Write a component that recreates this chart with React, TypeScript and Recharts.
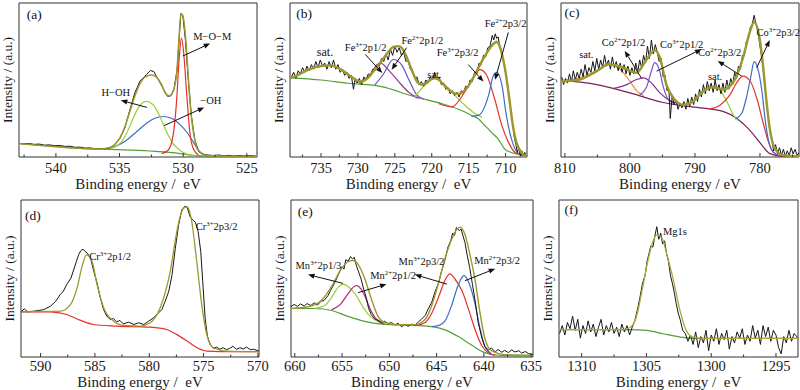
import React from "react";
import { LineChart, Line, XAxis, YAxis, ReferenceArea, ReferenceLine, ReferenceDot } from "recharts";

type Pt = [number, number];

// ---------- (a) O 1s ----------
const aRaw: Pt[] = [[542.9, 8.8], [542.5, 8.5], [542.1, 8.7], [541.7, 8.2], [541.3, 8.4], [540.9, 7.7], [540.5, 7.9], [540.1, 7.3], [539.7, 7.5], [539.3, 6.9], [538.9, 7.0], [538.5, 6.3], [538.1, 6.4], [537.7, 5.8], [537.3, 5.9], [536.9, 5.4], [536.5, 5.5], [536.1, 5.3], [535.8, 5.8], [535.5, 7.2], [534.97, 12], [534.58, 19], [534.19, 30.6], [533.8, 41.6], [533.4, 49.2], [532.88, 53.6], [532.57, 56.2], [532.3, 55.4], [531.96, 50.3], [531.57, 44.4], [531.23, 39.4], [531.0, 39.6], [530.73, 43.8], [530.47, 56.9], [530.31, 77.7], [530.18, 93.4], [530.03, 91.9], [529.82, 75.5], [529.61, 51.4], [529.35, 26.3], [529.08, 10.9], [528.77, 3.3], [528.4, 1.6], [528.0, 1.2], [527.6, 0.9], [527.2, 1.3], [526.8, 0.8], [526.4, 1.1], [526.0, 0.6], [525.6, 1.0], [525.2, 0.7], [524.8, 1.0], [524.3, 0.6]];
const aFit: Pt[] = [[542.91, 8.75], [540.47, 7.0], [537.85, 5.47], [536.54, 5.25], [535.76, 6.13], [535.37, 8.1], [534.97, 12.5], [534.58, 19.7], [534.19, 29.5], [533.8, 39.4], [533.4, 47.5], [533.01, 51.9], [532.49, 53.2], [532.09, 51.9], [531.7, 47.0], [531.31, 40.5], [531.05, 39.8], [530.79, 42.7], [530.52, 53.6], [530.34, 75.5], [530.18, 93.0], [530.0, 90.8], [529.79, 75.5], [529.61, 53.6], [529.4, 29.5], [529.16, 14.2], [528.82, 4.4], [528.17, 1.1], [526.07, 0.5], [524.24, 0.5]];
const aBg: Pt[] = [[542.9, 8.8], [537.85, 5.5], [535.24, 4.8], [532.62, 3.9], [530.79, 2.8], [529.21, 1.1], [527.38, 0.5], [524.2, 0.5]];
const aHOH: Pt[] = [[535.76, 5.5], [534.97, 8.75], [534.45, 15.3], [533.93, 25.2], [533.4, 33.5], [532.88, 36.1], [532.36, 33.9], [531.83, 26.3], [531.31, 16.4], [530.79, 8.75], [530.26, 4.4], [529.61, 1.5], [528.95, 0.7]];
const aOH: Pt[] = [[536.02, 5.5], [535.24, 7.2], [534.45, 10.9], [533.66, 16.4], [532.88, 21.9], [532.23, 25.2], [531.57, 26.3], [530.92, 25.2], [530.26, 21.2], [529.74, 16.4], [529.21, 9.8], [528.69, 3.3], [528.17, 1.1]];
const aMOM: Pt[] = [[531.7, 2.2], [531.18, 4.4], [530.79, 14.2], [530.52, 36.1], [530.31, 64.6], [530.13, 77.2], [529.95, 66.7], [529.74, 42.7], [529.48, 16.4], [529.21, 5.5], [528.82, 1.5]];

// ---------- (b) Fe 2p ----------
const bRaw: Pt[] = [[739.0, 52], [738.7, 55], [738.4, 51], [738.1, 56], [737.8, 54], [737.5, 58], [737.2, 55], [736.9, 59], [736.6, 56], [736.3, 60], [736.0, 57], [735.7, 62], [735.4, 58], [735.1, 63], [734.8, 59], [734.5, 61], [734.2, 57], [733.9, 62], [733.6, 58], [733.3, 63], [733.0, 57], [732.7, 60], [732.4, 55], [732.1, 57], [731.8, 53], [731.5, 55], [731.2, 51], [730.9, 53], [730.6, 44], [730.4, 50], [730.1, 48], [729.8, 51], [729.5, 47], [729.2, 52], [728.9, 50], [728.6, 54], [728.3, 53], [728.0, 57], [727.7, 56], [727.4, 60], [727.1, 59], [726.8, 64], [726.5, 62], [726.2, 67], [725.9, 63], [725.6, 70], [725.3, 66], [725.0, 72], [724.7, 68], [724.4, 71], [724.1, 66], [723.8, 68], [723.5, 62], [723.2, 63], [722.9, 57], [722.6, 56], [722.3, 51], [722.0, 52], [721.7, 47], [721.4, 49], [721.1, 46], [720.8, 50], [720.5, 48], [720.2, 52], [719.9, 50], [719.6, 55], [719.3, 50], [719.0, 52], [718.7, 47], [718.4, 48], [718.1, 44], [717.8, 45], [717.5, 41], [717.2, 43], [716.9, 40], [716.6, 42], [716.3, 39], [716.0, 43], [715.7, 42], [715.4, 46], [715.1, 45], [714.8, 50], [714.5, 49], [714.2, 55], [713.9, 54], [713.6, 61], [713.3, 60], [713.0, 66], [712.7, 65], [712.4, 71], [712.1, 72], [711.8, 79], [711.6, 76], [711.4, 80], [711.2, 77], [711.0, 78], [710.8, 72], [710.6, 70], [710.4, 64], [710.2, 60], [710.0, 55], [709.8, 48], [709.6, 42], [709.4, 34], [709.2, 27], [709.0, 20], [708.8, 12], [708.6, 8], [708.4, 3], [708.2, 6], [708.0, 0.5], [707.8, 4], [707.6, 1], [707.4, 3], [707.2, 0.5]];
const bFit: Pt[] = [[739.2, 51], [738, 53.5], [737, 56], [736, 58], [735, 59], [734, 59.5], [733, 58.5], [732, 56], [731, 52.5], [730, 49.5], [729.5, 49], [729, 50], [728.5, 52], [728, 55], [727, 61], [726, 67.5], [725.2, 71.5], [724.5, 72], [724, 70.5], [723.5, 66], [723, 60], [722.5, 54], [722, 49], [721.5, 47], [721, 47.3], [720.5, 49], [720, 50.8], [719.5, 51.2], [719, 50], [718.5, 47.5], [718, 45], [717.5, 43], [717, 41.5], [716.5, 41], [716, 41.5], [715.5, 43.5], [715, 46.5], [714.5, 50.5], [714, 55], [713.5, 59.5], [713, 64], [712.5, 68], [712, 71.5], [711.5, 74], [711.2, 74.8], [711, 74], [710.5, 67], [710, 55], [709.5, 38], [709, 20], [708.5, 9], [708, 4], [707.5, 1.5], [707.1, 0.8]];
const bBg: Pt[] = [[739.2, 51.6], [735, 50], [731.3, 47.9], [726.8, 45.7], [722.3, 39.1], [718.7, 34.7], [715.5, 29.2], [714.6, 27], [713.7, 24.8], [712.8, 20.4], [711.9, 16], [711, 11.6], [710.1, 5.1], [709.2, 2.9], [708.3, 1.8], [707.1, 0.7]];
const bFe3p32: Pt[] = [[719.1, 34.7], [717.3, 32.5], [715.5, 42.4], [714.1, 53.4], [713.5, 56.7], [712.6, 53.4], [711.5, 38], [710.5, 20.4], [709.6, 9.5], [708.7, 2.9], [707.1, 0.7]];
const bFe2p32: Pt[] = [[714.6, 26.4], [713.7, 27], [712.3, 40.2], [711.7, 52.3], [711.2, 55], [710.5, 46.8], [709.9, 27], [709.2, 11.6], [708.3, 2.4], [707.1, 0.7]];
const bSat: Pt[] = [[722.3, 39.1], [720.9, 46.8], [719.6, 50.8], [718.2, 46.8], [716.9, 40.2], [715.5, 33.6], [714.1, 28.1], [713.2, 25.9]];
const bFe3p12: Pt[] = [[729.9, 47.9], [728.6, 52.3], [727, 61.1], [725.7, 55.6], [724.5, 49], [723.2, 42.4], [721.8, 38]];
const bFe2p12: Pt[] = [[727.7, 46.8], [726.6, 53.4], [725.2, 63.3], [724.1, 60], [723.2, 51.2], [722, 40.2], [721.1, 37.6]];

// ---------- (c) Co 2p ----------
const cRaw: Pt[] = [[810.5, 52], [810.2, 47], [809.9, 51], [809.6, 48], [809.3, 54], [809.0, 49], [808.7, 56], [808.4, 50], [808.1, 55], [807.8, 51], [807.5, 57], [807.2, 52], [806.9, 60], [806.6, 53], [806.3, 58], [806.0, 55], [805.7, 62], [805.4, 56], [805.1, 64], [804.8, 57], [804.5, 63], [804.2, 58], [803.9, 66], [803.6, 59], [803.3, 63], [803.0, 57], [802.7, 65], [802.4, 58], [802.1, 62], [801.8, 56], [801.5, 61], [801.2, 55], [800.9, 60], [800.6, 54], [800.3, 59], [800.0, 53], [799.7, 58], [799.4, 54], [799.1, 61], [798.8, 55], [798.5, 63], [798.2, 58], [797.9, 66], [797.6, 61], [797.3, 72], [797.0, 64], [796.7, 76], [796.4, 67], [796.1, 73], [795.8, 68], [795.5, 62], [795.2, 64], [794.9, 52], [794.6, 53], [794.3, 43], [794.0, 44], [793.8, 25], [793.5, 40], [793.2, 34], [792.9, 37], [792.6, 31], [792.3, 35], [792.0, 32], [791.7, 36], [791.4, 31], [791.1, 38], [790.8, 33], [790.5, 39], [790.2, 34], [789.9, 41], [789.6, 36], [789.3, 44], [789.0, 39], [788.7, 47], [788.4, 41], [788.1, 49], [787.8, 43], [787.5, 48], [787.2, 42], [786.9, 50], [786.6, 43], [786.3, 47], [786.0, 41], [785.7, 48], [785.4, 42], [785.1, 50], [784.8, 44], [784.5, 51], [784.2, 47], [783.9, 55], [783.6, 51], [783.3, 59], [783.0, 57], [782.7, 66], [782.4, 66], [782.1, 75], [781.8, 76], [781.5, 84], [781.2, 86], [780.9, 92], [780.6, 86], [780.3, 81], [780.0, 72], [779.7, 64], [779.4, 53], [779.1, 40], [778.8, 29], [778.5, 17], [778.2, 12], [777.9, 4], [777.6, 8], [777.3, 2], [777.0, 6], [776.7, 1], [776.4, 5], [776.1, 0.5], [775.8, 4], [775.5, 1], [775.2, 6], [774.9, 2], [774.6, 5], [774.3, 1], [774.0, 3]];
const cFit: Pt[] = [[810.5, 49.2], [807.7, 50.3], [805.1, 55.8], [803.2, 60.2], [801.0, 58.0], [799.0, 54.7], [797.4, 63.5], [796.2, 69.4], [795.4, 64.6], [794.4, 47.0], [793.3, 38.3], [791.8, 33.9], [790.3, 36.1], [788.7, 42.7], [787.4, 45.3], [785.6, 43.8], [784.6, 46.0], [783.6, 52.5], [782.6, 64.6], [781.5, 82.1], [780.9, 87.5], [780.0, 75.5], [779.5, 58.0], [779.0, 36.1], [778.5, 18.6], [777.7, 5.5], [776.4, 1.1], [774.0, 0.3]];
const cBg: Pt[] = [[810.5, 49.7], [805.1, 47.0], [800.0, 41.6], [794.9, 35.4], [789.7, 32.2], [785.6, 29.5], [783.6, 25.2], [782.1, 19.7], [780.5, 12.0], [779.5, 6.6], [778.5, 2.2], [776.4, 0.4], [774.0, 0.2]];
const cSat1: Pt[] = [[810.3, 49.7], [807.7, 51.4], [805.1, 56.2], [803.2, 60.2], [801.5, 56.9], [800, 49.2], [799, 43.1], [797.9, 40.0]];
const cCo2p12: Pt[] = [[802.6, 44.4], [800.5, 47.0], [799.0, 50.3], [797.9, 51.4], [796.7, 48.1], [795.4, 41.6], [793.8, 36.5], [792.6, 35.0]];
const cCo3p12: Pt[] = [[798.5, 40.5], [797.4, 46.0], [796.7, 55.8], [796.2, 61.3], [795.5, 56.9], [794.9, 46.0], [794.1, 37.2], [793.3, 35.0]];
const cSat2: Pt[] = [[791.8, 33.5], [790.3, 36.1], [788.7, 42.7], [787.7, 46.0], [786.4, 44.4], [785.1, 36.1], [784.1, 27.4], [783.3, 23.4]];
const cCo2p32: Pt[] = [[787.7, 31.3], [786.2, 33.5], [784.6, 40.5], [783.6, 48.1], [782.6, 52.5], [781.5, 49.2], [780.5, 38.3], [779.5, 21.9], [778.7, 9.8], [778.0, 3.3], [776.9, 0.7]];
const cCo3p32: Pt[] = [[783.8, 24.7], [782.8, 28.4], [782.1, 38.3], [781.4, 52.5], [780.9, 61.9], [780.3, 56.9], [779.7, 42.7], [779.2, 24.1], [778.7, 10.9], [778.0, 3.3], [776.9, 0.7]];

// ---------- (d) Cr 2p ----------
const dRaw: Pt[] = [[591.8, 28.8], [591.5, 30.7], [591.2, 28.8], [590.6, 29.2], [590.2, 29.6], [589.7, 30.2], [589.1, 32.3], [588.6, 35.5], [588.2, 39.7], [587.9, 41.9], [587.6, 46.1], [587.2, 50.3], [586.9, 56.7], [586.7, 60.9], [586.5, 65.1], [586.3, 67.7], [586.1, 68.7], [585.9, 67.2], [585.7, 66.2], [585.4, 63.0], [585.1, 54.5], [584.8, 47.1], [584.5, 37.6], [584.2, 30.2], [583.9, 26.0], [583.6, 23.9], [583.3, 24.5], [583.0, 22.4], [582.7, 23.3], [582.4, 21.1], [581.9, 22.2], [581.4, 20.7], [580.98, 21.8], [580.5, 20.7], [580.06, 22.8], [579.6, 24.9], [579.14, 28.1], [578.84, 30.2], [578.53, 35.5], [578.2, 41.9], [577.9, 52.4], [577.6, 69.3], [577.3, 84.1], [577.0, 93.7], [576.7, 96.2], [576.5, 95.1], [576.24, 89.4], [576.0, 87.3], [575.75, 85.8], [575.5, 79.9], [575.26, 67.2], [575.08, 48.2], [574.86, 24.9], [574.65, 13.3], [574.4, 8.0], [574.1, 5.5], [573.8, 6.3], [573.5, 4.9], [573.2, 5.9], [572.9, 4.7], [572.6, 5.5], [572.3, 6.8], [571.96, 4.9], [571.65, 5.9], [571.35, 5.1], [571.04, 6.3], [570.7, 4.7], [570.4, 4.9], [569.9, 3.8]];
const dFit: Pt[] = [[591.77, 28.8], [588.17, 29.2], [587.25, 33.4], [586.64, 44.0], [586.18, 57.7], [585.78, 65.1], [585.26, 60.9], [584.8, 46.1], [584.19, 31.3], [583.27, 22.8], [582.35, 20.1], [580.83, 19.7], [579.91, 21.8], [578.99, 31.3], [578.07, 54.5], [577.46, 79.9], [577.16, 89.4], [576.85, 94.7], [576.54, 95.8], [576.3, 92.9], [576.09, 86.3], [575.63, 60.9], [575.17, 33.4], [574.71, 14.4], [574.1, 5.9], [572.87, 3.8], [569.91, 3.4]];
const dBg: Pt[] = [[591.8, 28.8], [589.1, 28.8], [587.6, 27.1], [586.3, 23.3], [585.1, 20.7], [583.0, 19.7], [579.9, 19.0], [578.4, 17.5], [577.5, 14.4], [576.5, 10.1], [575.6, 5.9], [574.7, 3.8], [572.3, 3.4], [569.9, 3.4]];

// ---------- (e) Mn 2p ----------
const eRaw: Pt[] = [[660.4, 32], [660.07, 33.5], [659.7, 32.2], [659.4, 33.8], [659.0, 32.5], [658.7, 34], [658.3, 32.8], [657.95, 34.5], [657.6, 33], [657.25, 35.5], [656.9, 36], [656.5, 39], [656.2, 42.5], [655.8, 47], [655.5, 51], [655.2, 55], [655.0, 57.5], [654.8, 56], [654.6, 62], [654.35, 61], [654.1, 64], [653.9, 62.5], [653.7, 63.5], [653.5, 58.5], [653.3, 55], [653.0, 50], [652.7, 43], [652.4, 37], [652.2, 31], [651.9, 27], [651.5, 24], [651.2, 23.5], [650.8, 22], [650.5, 22.8], [650.1, 21.2], [649.8, 22], [649.4, 20.4], [649.05, 21.5], [648.7, 19.2], [648.35, 20.8], [648.0, 19.5], [647.6, 21], [647.3, 20.2], [646.9, 22.5], [646.6, 24], [646.2, 26.5], [645.9, 30.5], [645.5, 35], [645.2, 41], [644.8, 47], [644.5, 54], [644.1, 62], [643.8, 70], [643.5, 74], [643.3, 79], [643.1, 77.5], [642.9, 82.5], [642.6, 80.5], [642.4, 81.5], [642.2, 77], [642.0, 73], [641.8, 66], [641.5, 57], [641.2, 46], [640.9, 35], [640.6, 22], [640.2, 12], [639.9, 6.5], [639.5, 4.5], [639.2, 5.8], [638.8, 3.2], [638.5, 4.8], [638.1, 3.0], [637.8, 4.2], [637.4, 2.8], [637.05, 4.5], [636.7, 3.2], [636.3, 4.0], [636.0, 2.5], [635.6, 3.5], [635.3, 2.2], [634.8, 1.5]];
const eFit: Pt[] = [[660.4, 31], [658.6, 32], [657.2, 36], [656.1, 45], [655.1, 56], [654.4, 60.5], [653.9, 61.5], [653.3, 59], [652.6, 50], [651.9, 37], [651.2, 26], [650.5, 22], [649.1, 20.5], [647.3, 20.5], [646.2, 24], [645.5, 33], [644.8, 47], [644.1, 63], [643.4, 75], [642.9, 81], [642.5, 82.7], [642.0, 78], [641.5, 66], [640.9, 48], [640.4, 28], [639.9, 12], [639.2, 4], [637.8, 1.5], [634.8, 1]];
const eBg: Pt[] = [[660.4, 30.9], [657.9, 30.9], [656.1, 29.6], [654.4, 25.9], [652.6, 22.7], [650.8, 21.0], [647.3, 20.1], [645.5, 19.4], [644.1, 17.3], [642.7, 13.0], [641.3, 7.6], [639.9, 2.8], [638.5, 1.1], [634.8, 0.6]];
const eMn3p13: Pt[] = [[657.9, 31], [656.8, 33], [656.1, 38], [655.4, 44.5], [654.9, 46.4], [654.4, 45], [653.6, 40], [652.9, 33], [652.2, 27], [651.5, 23.5], [650.8, 21.5]];
const eMn2p12: Pt[] = [[656.1, 30], [655.1, 34], [654.4, 40], [653.8, 44.5], [653.5, 45.4], [652.9, 42.5], [652.4, 36], [651.9, 29], [651.2, 23], [650.5, 21]];
const eMn3p32: Pt[] = [[647.3, 20], [646.2, 22], [645.5, 28], [644.8, 38], [644.1, 49], [643.6, 52.9], [643.1, 50], [642.3, 42], [641.6, 30], [640.9, 17], [640.2, 7], [639.5, 2.5], [638.8, 1]];
const eMn2p32: Pt[] = [[645.5, 19.4], [644.8, 20], [644.1, 23], [643.4, 33], [642.7, 46], [642.1, 51.8], [641.5, 46], [640.9, 33], [640.4, 18], [639.9, 7], [639.2, 2]];

// ---------- (f) Mg 1s ----------
const fRaw: Pt[] = [[1311.7, 15], [1311.5, 20], [1311.3, 14], [1311.1, 22], [1310.9, 18], [1310.7, 26], [1310.5, 17], [1310.3, 24], [1310.1, 12], [1309.9, 20], [1309.7, 15], [1309.5, 23], [1309.3, 16], [1309.1, 21], [1308.9, 13], [1308.7, 19], [1308.5, 24], [1308.3, 14], [1308.1, 20], [1307.9, 16], [1307.7, 22], [1307.5, 15], [1307.3, 19], [1307.1, 13], [1306.9, 21], [1306.7, 16], [1306.5, 20], [1306.3, 14], [1306.1, 19], [1305.9, 23], [1305.7, 30], [1305.5, 38], [1305.3, 47], [1305.1, 52], [1304.95, 61], [1304.8, 66], [1304.65, 71], [1304.5, 70], [1304.35, 77], [1304.2, 83], [1304.05, 75], [1303.9, 79], [1303.75, 72], [1303.6, 74], [1303.45, 66], [1303.3, 61], [1303.15, 52], [1303.0, 47], [1302.85, 41], [1302.7, 34], [1302.55, 28], [1302.4, 24], [1302.2, 17], [1302.0, 15], [1301.8, 10], [1301.6, 14], [1301.4, 8], [1301.2, 16], [1301.0, 6], [1300.8, 13], [1300.6, 9], [1300.4, 17], [1300.2, 4], [1300.0, 14], [1299.8, 10], [1299.6, 18], [1299.4, 8], [1299.2, 15], [1299.0, 11], [1298.8, 17], [1298.6, 5], [1298.4, 13], [1298.2, 9], [1298.0, 16], [1297.8, 12], [1297.6, 18], [1297.4, 8], [1297.2, 14], [1297.0, 10], [1296.8, 20], [1296.6, 12], [1296.4, 17], [1296.2, 8], [1296.0, 20], [1295.8, 13], [1295.6, 19], [1295.4, 10], [1295.2, 17], [1295.0, 14], [1294.8, 6], [1294.6, 2], [1294.4, 13], [1294.2, 9], [1294.0, 17], [1293.8, 10], [1293.6, 15], [1293.3, 12]];
const fFit: Pt[] = [[1311.75, 17.5], [1306.8, 17.5], [1306.3, 18.6], [1305.8, 25], [1305.3, 44], [1304.9, 60.9], [1304.5, 73.6], [1304.2, 77.8], [1303.8, 75.7], [1303.45, 66.2], [1302.9, 48.2], [1302.4, 29.2], [1301.9, 16.5], [1301.4, 12.7], [1300.6, 11.8], [1293.3, 11.8]];
const fBg: Pt[] = [[1311.75, 17.5], [1306.3, 17.5], [1305.0, 16.9], [1303.7, 14.8], [1302.4, 12.7], [1301.1, 11.8], [1293.3, 11.8]];

// tick positions
const aTicks = [525, 527.5, 530, 532.5, 535, 537.5, 540, 542.5];
const bTicks = [710, 712.5, 715, 717.5, 720, 722.5, 725, 727.5, 730, 732.5, 735, 737.5];
const cTicks = [775, 780, 785, 790, 795, 800, 805, 810];
const dTicks = [570, 572.5, 575, 577.5, 580, 582.5, 585, 587.5, 590];
const eTicks = [635, 637.5, 640, 642.5, 645, 647.5, 650, 652.5, 655, 657.5, 660];
const fTicks = [1295, 1297.5, 1300, 1302.5, 1305, 1307.5, 1310];

const FONT = '"Liberation Serif", Tinos, "Times New Roman", Times, serif';
const RAW = "#161616";
const FIT = "#9c982e";
const RED = "#e8302c";
const BLUE = "#3d6ec4";
const LIME = "#9acd3a";
const GREEN = "#52a034";

type Series = { pts: Pt[]; color: string; w?: number; raw?: boolean };
type Note = { x: number; y: number; t: string; sup?: string; post?: string; size?: number };
type Arrow = [Pt, Pt];
type Box = { l: number; t: number; r: number; b: number };
type PanelDef = {
  box: Box;
  domain: [number, number];
  ticks: number[];
  major: number;
  row: 0 | 1;
  title: string;
  series: Series[];
  notes: Note[];
  arrows: Arrow[];
};

const toXY = (pts: Pt[]) => pts.map(([x, y]) => ({ x, y }));

const arrowShape = (p: any) => {
  const { x1, y1, x2, y2 } = p;
  const ang = Math.atan2(y2 - y1, x2 - x1);
  const L = 6.5;
  const W = 2.6;
  const bx = x2 - L * Math.cos(ang);
  const by = y2 - L * Math.sin(ang);
  const px = -Math.sin(ang) * W;
  const py = Math.cos(ang) * W;
  return (
    <g>
      <line x1={x1} y1={y1} x2={bx} y2={by} stroke="#111" strokeWidth={1} />
      <polygon points={`${x2},${y2} ${bx + px},${by + py} ${bx - px},${by - py}`} fill="#111" />
    </g>
  );
};

const noteShape = (n: Note) => (p: any) => {
  const s = n.size ?? 10.5;
  return (
    <text x={p.cx} y={p.cy} textAnchor="middle" fontSize={s} fill="#111" fontFamily={FONT}>
      {n.t}
      {n.sup && (
        <tspan fontSize={s * 0.65} dy={-s * 0.38}>
          {n.sup}
        </tspan>
      )}
      {n.post && (
        <tspan fontSize={s} dy={n.sup ? s * 0.38 : 0}>
          {n.post}
        </tspan>
      )}
    </text>
  );
};

const EXTRA_R = 14;

function Panel(p: PanelDef) {
  const { box, domain, ticks, major, row, series, notes, arrows } = p;
  const axisH = row === 0 ? 36 : 33;
  const tickDy = row === 0 ? 16 : 14;
  const titleOff = row === 0 ? 4 : 3;
  const w = box.r - box.l + 24 + EXTRA_R;
  const h = box.b - box.t + 2 + axisH;

  const Tick = (tp: any) => {
    const { x, y, payload } = tp;
    const v = payload.value;
    const isMajor = Math.abs(v / major - Math.round(v / major)) < 1e-6;
    return (
      <g>
        <line x1={x} x2={x} y1={y} y2={y - (isMajor ? 4 : 2.5)} stroke="#333" />
        {isMajor && (
          <text x={x} y={y + tickDy} textAnchor="middle" fontSize={14.5} fill="#1a1a1a" fontFamily={FONT}>
            {v}
          </text>
        )}
      </g>
    );
  };

  return (
    <div style={{ position: "absolute", left: box.l - 24, top: box.t - 2 }}>
      <LineChart width={w} height={h} margin={{ top: 2, right: EXTRA_R, bottom: 0, left: 0 }}>
        <XAxis
          type="number"
          dataKey="x"
          domain={domain}
          reversed
          allowDataOverflow
          ticks={ticks}
          interval={0}
          tick={Tick}
          tickLine={false}
          axisLine={false}
          tickSize={0}
          tickMargin={0}
          height={axisH}
          label={{ value: p.title, position: "insideBottom", offset: titleOff, fill: "#1a1a1a", fontSize: 15, fontFamily: FONT }}
        />
        <YAxis
          type="number"
          domain={[0, 100]}
          allowDataOverflow
          tick={false}
          tickLine={false}
          axisLine={false}
          width={24}
          label={{ value: "Intensity / (a.u.)", angle: -90, position: "center", fill: "#1a1a1a", fontSize: 13.5, fontFamily: FONT }}
        />
        <ReferenceArea x1={domain[0]} x2={domain[1]} y1={0} y2={100} fill="none" stroke="#333" strokeWidth={1} ifOverflow="visible" />
        {series.map((s, i) => (
          <Line
            key={i}
            data={toXY(s.pts)}
            dataKey="y"
            type={s.raw ? "linear" : "monotone"}
            stroke={s.color}
            strokeWidth={s.w ?? 1.2}
            dot={false}
            activeDot={false}
            isAnimationActive={false}
          />
        ))}
        {arrows.map((a, i) => (
          <ReferenceLine
            key={"a" + i}
            segment={[{ x: a[0][0], y: a[0][1] }, { x: a[1][0], y: a[1][1] }]}
            shape={arrowShape}
            ifOverflow="visible"
          />
        ))}
        {notes.map((n, i) => (
          <ReferenceDot key={"n" + i} x={n.x} y={n.y} r={0} shape={noteShape(n)} ifOverflow="visible" />
        ))}
      </LineChart>
    </div>
  );
}

const T2 = "Binding energy /\u00a0 eV";
const T1 = "Binding energy / eV";

const panels: PanelDef[] = [
  {
    box: { l: 19, t: 3, r: 257, b: 157 },
    domain: [524.2, 542.9],
    ticks: aTicks,
    major: 5,
    row: 0,
    title: T2,
    series: [
      { pts: aBg, color: GREEN },
      { pts: aOH, color: BLUE },
      { pts: aHOH, color: LIME },
      { pts: aMOM, color: RED },
      { pts: aRaw, color: RAW, w: 1, raw: true },
      { pts: aFit, color: FIT, w: 1.5 },
    ],
    notes: [
      { x: 541.7, y: 89.7, t: "(a)", size: 13.5 },
      { x: 527.72, y: 75.9, t: "M\u2212O\u2212M" },
      { x: 535.29, y: 39.4, t: "H\u2212OH" },
      { x: 527.83, y: 34.4, t: "\u2212OH" },
    ],
    arrows: [
      [[530.03, 65.6], [527.88, 73.7]],
      [[532.85, 32.2], [534.9, 36.8]],
      [[531.49, 20.4], [528.35, 32.2]],
    ],
  },
  {
    box: { l: 290, t: 3, r: 527, b: 157 },
    domain: [707.1, 739.2],
    ticks: bTicks,
    major: 5,
    row: 0,
    title: T2,
    series: [
      { pts: bBg, color: GREEN },
      { pts: bFe3p12, color: "#9a3496" },
      { pts: bFe2p12, color: "#6a4fc6" },
      { pts: bSat, color: LIME },
      { pts: bFe3p32, color: RED },
      { pts: bFe2p32, color: BLUE },
      { pts: bRaw, color: RAW, w: 1, raw: true },
      { pts: bFit, color: FIT, w: 2.4 },
    ],
    notes: [
      { x: 737.3, y: 90.3, t: "(b)", size: 13.5 },
      { x: 734.46, y: 65.5, t: "sat.", size: 12 },
      { x: 728.95, y: 68.8, t: "Fe", sup: "3+", post: "2p1/2" },
      { x: 721.28, y: 73.2, t: "Fe", sup: "2+", post: "2p1/2" },
      { x: 719.65, y: 51.2, t: "sat." },
      { x: 716.5, y: 65.5, t: "Fe", sup: "3+", post: "2p3/2" },
      { x: 710.0, y: 84.2, t: "Fe", sup: "2+", post: "2p3/2" },
    ],
    arrows: [
      [[729.0, 66.6], [726.7, 54.5]],
      [[723.4, 71], [725.43, 56.7]],
      [[715.05, 60], [713.0, 49]],
      [[709.63, 80.9], [711.43, 50.1]],
    ],
  },
  {
    box: { l: 561, t: 3, r: 799, b: 157 },
    domain: [774.0, 810.6],
    ticks: cTicks,
    major: 10,
    row: 0,
    title: T1,
    series: [
      { pts: cBg, color: "#7c2058" },
      { pts: cSat1, color: "#f0902c" },
      { pts: cCo2p12, color: "#8c2a8e" },
      { pts: cCo3p12, color: "#6e55cc" },
      { pts: cSat2, color: LIME },
      { pts: cCo2p32, color: RED },
      { pts: cCo3p32, color: BLUE },
      { pts: cRaw, color: RAW, w: 1, raw: true },
      { pts: cFit, color: FIT, w: 2.4 },
    ],
    notes: [
      { x: 808.9, y: 90.8, t: "(c)", size: 13.5 },
      { x: 806.7, y: 64.6, t: "sat." },
      { x: 801, y: 72.2, t: "Co", sup: "2+", post: "2p1/2" },
      { x: 792.05, y: 71.1, t: "Co", sup: "3+", post: "2p1/2" },
      { x: 786.9, y: 50.3, t: "sat." },
      { x: 786.2, y: 65.6, t: "Co", sup: "2+", post: "2p3/2" },
      { x: 777.2, y: 78.8, t: "Co", sup: "3+", post: "2p3/2" },
    ],
    arrows: [
      [[798.2, 51], [800.8, 68.9]],
      [[795.9, 55.8], [789, 70]],
      [[782.8, 52.5], [786.5, 62.4]],
      [[780.5, 58], [778.5, 75.9]],
    ],
  },
  {
    box: { l: 21, t: 200, r: 259, b: 357 },
    domain: [569.9, 591.8],
    ticks: dTicks,
    major: 5,
    row: 1,
    title: T2,
    series: [
      { pts: dBg, color: RED },
      { pts: dRaw, color: RAW, w: 1, raw: true },
      { pts: dFit, color: FIT, w: 1.3 },
    ],
    notes: [
      { x: 590.7, y: 87.3, t: "(d)", size: 13.5 },
      { x: 583.6, y: 61.9, t: "Cr", sup: "3+", post: "2p1/2" },
      { x: 573.8, y: 81, t: "Cr", sup: "3+", post: "2p3/2" },
    ],
    arrows: [],
  },
  {
    box: { l: 291, t: 200, r: 533, b: 357 },
    domain: [634.8, 660.4],
    ticks: eTicks,
    major: 5,
    row: 1,
    title: T1,
    series: [
      { pts: eBg, color: GREEN },
      { pts: eMn3p13, color: LIME },
      { pts: eMn2p12, color: "#b0267e" },
      { pts: eMn3p32, color: RED },
      { pts: eMn2p32, color: BLUE },
      { pts: eRaw, color: RAW, w: 1, raw: true },
      { pts: eFit, color: FIT, w: 1.4 },
    ],
    notes: [
      { x: 658.9, y: 89.6, t: "(e)", size: 13.5 },
      { x: 657.5, y: 56.2, t: "Mn", sup: "3+", post: "2p1/3" },
      { x: 649.6, y: 49.7, t: "Mn", sup: "2+", post: "2p1/2" },
      { x: 646.6, y: 58.3, t: "Mn", sup: "3+", post: "2p3/2" },
      { x: 638.6, y: 59.4, t: "Mn", sup: "2+", post: "2p3/2" },
    ],
    arrows: [
      [[654.9, 46.9], [658.6, 52.5]],
      [[653.3, 41], [650.3, 46.4]],
      [[643.9, 46.4], [647.3, 52.5]],
      [[642, 48.6], [638.8, 56.2]],
    ],
  },
  {
    box: { l: 559, t: 200, r: 798, b: 357 },
    domain: [1293.3, 1311.75],
    ticks: fTicks,
    major: 5,
    row: 1,
    title: T2,
    series: [
      { pts: fBg, color: GREEN },
      { pts: fRaw, color: RAW, w: 1, raw: true },
      { pts: fFit, color: "#aaa83a", w: 1.3 },
    ],
    notes: [
      { x: 1310.8, y: 91.1, t: "(f)", size: 13.5 },
      { x: 1302.8, y: 77.4, t: "Mg1s" },
    ],
    arrows: [],
  },
];

export default function App() {
  return (
    <div
      style={{
        position: "absolute",
        left: 0,
        top: 0,
        width: 800,
        height: 390,
        overflow: "hidden",
        background: "#fff",
        fontFamily: FONT,
      }}
    >
      {panels.map((p, i) => (
        <Panel key={i} {...p} />
      ))}
    </div>
  );
}
